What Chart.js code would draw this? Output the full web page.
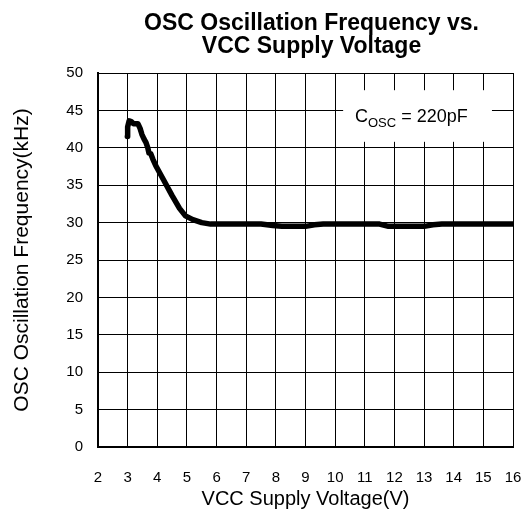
<!DOCTYPE html>
<html>
<head>
<meta charset="utf-8">
<script src="https://cdn.jsdelivr.net/npm/chart.js@4/dist/chart.umd.min.js"></script>
<style>
    body { margin: 0; background: #fff; }
    canvas { display: block; }
</style>
</head>
<body>
<canvas id="chart" width="531" height="512"></canvas>
<script>
const voltage = [2.99, 3.0, 3.05, 3.12, 3.2, 3.35, 3.42, 3.48, 3.55, 3.62, 3.68, 3.72, 3.78, 3.85, 3.95,
    4.2, 4.5, 4.75, 4.95, 5.2, 5.5, 5.8, 6.5, 7.5, 7.9, 8.2, 9.0, 9.3, 9.6, 11.5, 11.8, 13.0, 13.3, 13.6, 16];
const frequency = [41.5, 42.8, 43.6, 43.5, 43.2, 43.2, 42.6, 41.8, 41.2, 40.7, 40.0, 39.3, 39.2, 38.5, 37.6,
    35.8, 33.6, 31.9, 30.9, 30.4, 30.0, 29.8, 29.8, 29.8, 29.6, 29.5, 29.5, 29.7, 29.8, 29.8, 29.5, 29.5, 29.7, 29.8, 29.8];

const xTicks = [2, 3, 4, 5, 6, 7, 8, 9, 10, 11, 12, 13, 14, 15, 16];
const yTicks = [0, 5, 10, 15, 20, 25, 30, 35, 40, 45, 50];

const titleLines = ["OSC Oscillation Frequency vs.", "VCC Supply Voltage"];
const noteMain = "C";
const noteSub = "OSC";
const noteRest = " = 220pF";

const fontFamily = "'Liberation Sans', Arial, sans-serif";

// white label box sitting on the grid, in data units
const noteBox = { x0: 10.27, x1: 15.29, y0: 47.7, y1: 40.8, textX: 10.67, textY: 43.5 };

const notePlugin = {
    id: 'noteBox',
    beforeDatasetsDraw(chart) {
        const ctx = chart.ctx;
        const xs = chart.scales.x, ys = chart.scales.y;
        const left = xs.getPixelForValue(noteBox.x0);
        const right = xs.getPixelForValue(noteBox.x1);
        const top = ys.getPixelForValue(noteBox.y0);
        const bottom = ys.getPixelForValue(noteBox.y1);
        ctx.save();
        ctx.fillStyle = '#fff';
        ctx.fillRect(left, top, right - left, bottom - top);

        let tx = xs.getPixelForValue(noteBox.textX);
        const ty = ys.getPixelForValue(noteBox.textY);
        ctx.fillStyle = '#000';
        ctx.textBaseline = 'alphabetic';
        ctx.font = '18px ' + fontFamily;
        ctx.fillText(noteMain, tx, ty);
        tx += ctx.measureText(noteMain).width;
        ctx.font = '13px ' + fontFamily;
        ctx.fillText(noteSub, tx, ty + 5);
        tx += ctx.measureText(noteSub).width;
        ctx.font = '18px ' + fontFamily;
        ctx.fillText(noteRest, tx, ty);
        ctx.restore();
    }
};

// nudge the title a little right, like the original
const titleShift = {
    id: 'titleShift',
    afterLayout(chart) {
        const t = chart.titleBlock;
        if (t) { t.left += 6; t.right += 6; }
    }
};

const ctx = document.getElementById('chart');
const myChart = new Chart(ctx, {
    type: 'line',
    data: {
        datasets: [{
            label: 'Frequency',
            data: voltage.map((v, i) => ({ x: v, y: frequency[i] })),
            borderColor: '#000',
            backgroundColor: '#000',
            borderWidth: 5.5,
            borderJoinStyle: 'round',
            borderCapStyle: 'round',
            pointRadius: 0,
            tension: 0
        }]
    },
    options: {
        responsive: false,
        animation: false,
        layout: { padding: { left: 0, right: 18, top: 0, bottom: 0 } },
        plugins: {
            legend: { display: false },
            tooltip: { enabled: false },
            title: {
                display: true,
                fullSize: false,
                text: titleLines,
                color: '#000',
                font: { family: fontFamily, size: 23, weight: 'bold', lineHeight: 1.0 },
                padding: { top: 12, bottom: 15 }
            }
        },
        scales: {
            x: {
                type: 'linear',
                min: 2,
                max: 16,
                afterFit(scale) {
                    scale.height = 65;
                    scale.paddingLeft = 0;
                    scale.paddingRight = 0;
                },
                afterBuildTicks(scale) { scale.ticks = xTicks.map(v => ({ value: v })); },
                ticks: {
                    color: '#000',
                    padding: 22,
                    maxRotation: 0,
                    font: { family: fontFamily, size: 15 }
                },
                grid: { color: '#000', lineWidth: 1, drawTicks: false },
                border: { color: '#000', width: 2 },
                title: {
                    display: true,
                    text: 'VCC Supply Voltage(V)',
                    color: '#000',
                    font: { family: fontFamily, size: 20 },
                    padding: { top: 0, bottom: 1 }
                }
            },
            y: {
                min: 0,
                max: 50,
                afterFit(scale) { scale.width = 98; },
                afterBuildTicks(scale) { scale.ticks = yTicks.map(v => ({ value: v })); },
                ticks: {
                    color: '#000',
                    padding: 15,
                    font: { family: fontFamily, size: 15 }
                },
                grid: { color: '#000', lineWidth: 1, drawTicks: false },
                border: { color: '#000', width: 2 },
                title: {
                    display: true,
                    text: 'OSC Oscillation Frequency(kHz)',
                    color: '#000',
                    font: { family: fontFamily, size: 21 },
                    padding: { top: 10, bottom: 0 }
                }
            }
        }
    },
    plugins: [notePlugin, titleShift]
});
</script>
</body>
</html>
